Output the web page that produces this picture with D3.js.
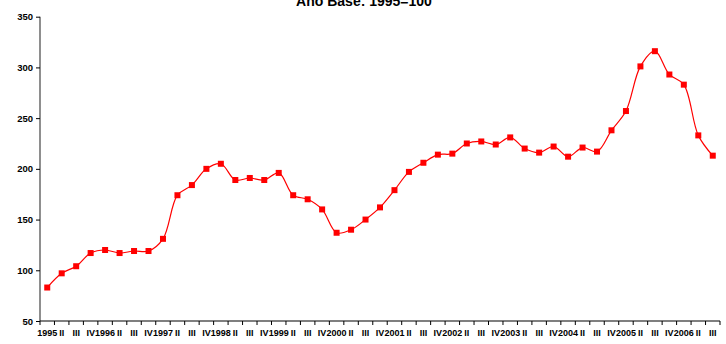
<!DOCTYPE html>
<html>
<head>
<meta charset="utf-8">
<script src="https://cdn.jsdelivr.net/npm/d3@7"></script>
<style>
  html, body { margin: 0; padding: 0; background: #fff; }
  svg { display: block; font-family: "Liberation Sans", Arial, sans-serif; }
</style>
</head>
<body>
<svg id="chart" width="726" height="344"></svg>
<script>
// Quarterly index, 1995 I .. 2006 III
const quarters = [
  "1995 I","1995 II","1995 III","1995 IV",
  "1996 I","1996 II","1996 III","1996 IV",
  "1997 I","1997 II","1997 III","1997 IV",
  "1998 I","1998 II","1998 III","1998 IV",
  "1999 I","1999 II","1999 III","1999 IV",
  "2000 I","2000 II","2000 III","2000 IV",
  "2001 I","2001 II","2001 III","2001 IV",
  "2002 I","2002 II","2002 III","2002 IV",
  "2003 I","2003 II","2003 III","2003 IV",
  "2004 I","2004 II","2004 III","2004 IV",
  "2005 I","2005 II","2005 III","2005 IV",
  "2006 I","2006 II","2006 III"
];
const tickLabels = [
  "1995","II","III","IV","1996","II","III","IV","1997","II","III","IV",
  "1998","II","III","IV","1999","II","III","IV","2000","II","III","IV",
  "2001","II","III","IV","2002","II","III","IV","2003","II","III","IV",
  "2004","II","III","IV","2005","II","III","IV","2006","II","III"
];
const values = [
  83, 97, 104, 117,
  120, 117, 119, 119,
  131, 174, 184, 200,
  205, 189, 191, 189,
  196, 174, 170, 160,
  137, 140, 150, 162,
  179, 197, 206, 214,
  215, 225, 227, 224,
  231, 220, 216, 222,
  212, 221, 217, 238,
  257, 301, 316, 293,
  283, 233, 213
];
const yTicks = [50, 100, 150, 200, 250, 300, 350];
const title = "Ano Base: 1995=100";

const svg = d3.select("#chart");
const plotLeft = 40, plotRight = 720, plotTop = 16.7, plotBottom = 321;

const x = d3.scaleBand().domain(quarters).range([plotLeft, plotRight]).padding(0);
const y = d3.scaleLinear().domain([50, 350]).range([plotBottom, plotTop]);

// title (partly above the top edge)
svg.append("text")
  .attr("x", 364).attr("y", 6)
  .attr("text-anchor", "middle")
  .style("font-size", "14px").style("font-weight", "bold")
  .text(title);

// y axis
const yAxis = svg.append("g")
  .attr("transform", `translate(${plotLeft},0)`)
  .call(d3.axisLeft(y).tickValues(yTicks).tickSize(4).tickPadding(3).tickFormat(d3.format("d")));
yAxis.select(".domain").attr("stroke", "#444").attr("stroke-width", 1.2).attr("d", `M0,${plotTop}V${plotBottom}`);
yAxis.selectAll(".tick line").attr("stroke", "#000");
yAxis.selectAll("text")
  .style("font-size", "9.5px").style("font-weight", "bold")
  .style("font-family", "'Liberation Sans', Arial, sans-serif")
  .attr("fill", "#000");

// x axis: tick marks at category boundaries, labels centred in each band
const xg = svg.append("g").attr("transform", `translate(0,${plotBottom})`);
xg.append("line")
  .attr("x1", plotLeft).attr("x2", plotRight).attr("y1", 0).attr("y2", 0)
  .attr("stroke", "#000").attr("stroke-width", 1.2);
const bounds = quarters.map(q => x(q)).concat([plotRight]);
xg.selectAll("line.tk").data(bounds).join("line")
  .attr("class", "tk")
  .attr("x1", d => d).attr("x2", d => d)
  .attr("y1", 0).attr("y2", 4)
  .attr("stroke", "#000");
xg.selectAll("text.lbl").data(quarters).join("text")
  .attr("class", "lbl")
  .attr("x", (q) => x(q) + x.bandwidth() / 2)
  .attr("y", 15)
  .attr("text-anchor", "middle")
  .style("font-size", "9px").style("font-weight", "bold")
  .text((q, i) => tickLabels[i]);

// series line
const line = d3.line()
  .x((d, i) => x(quarters[i]) + x.bandwidth() / 2)
  .y(d => y(d))
  .curve(d3.curveCatmullRom.alpha(0.5));

svg.append("path")
  .datum(values)
  .attr("fill", "none")
  .attr("stroke", "#ff0000")
  .attr("stroke-width", 1.2)
  .attr("d", line);

// square markers
const ms = 6;
svg.selectAll("rect.pt").data(values).join("rect")
  .attr("class", "pt")
  .attr("x", (d, i) => x(quarters[i]) + x.bandwidth() / 2 - ms / 2)
  .attr("y", d => y(d) - ms / 2)
  .attr("width", ms).attr("height", ms)
  .attr("fill", "#ff0000");
</script>
</body>
</html>
